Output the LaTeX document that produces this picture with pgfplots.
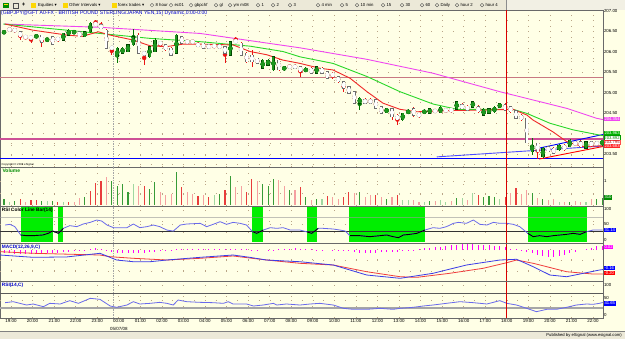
\documentclass[border=0pt]{standalone}
\usepackage{fontspec}
\setmainfont{Liberation Sans}
\newfontfamily\djv{DejaVu Sans}
\usepackage{pgfplots}
\usepackage{pgfplotstable}
\pgfplotsset{compat=1.18}
\definecolor{cream}{RGB}{255,255,230}
\definecolor{tbgray}{RGB}{236,233,216}
\definecolor{gridc}{RGB}{185,165,135}
\definecolor{sepc}{RGB}{105,105,105}
\definecolor{maR}{RGB}{240,40,40}
\definecolor{maG}{RGB}{40,215,40}
\definecolor{maM}{RGB}{240,70,240}
\definecolor{upfill}{RGB}{30,150,30}
\definecolor{upedge}{RGB}{0,70,0}
\definecolor{dnedge}{RGB}{110,110,110}
\definecolor{wickR}{RGB}{235,20,20}
\definecolor{wickG}{RGB}{0,120,0}
\definecolor{volR}{RGB}{232,60,60}
\definecolor{volLR}{RGB}{245,160,160}
\definecolor{volG}{RGB}{55,155,55}
\definecolor{volLG}{RGB}{160,215,160}
\definecolor{zoneG}{RGB}{0,238,0}
\definecolor{rsiblue}{RGB}{105,105,235}
\definecolor{macdblue}{RGB}{60,60,230}
\definecolor{macdred}{RGB}{240,60,60}
\definecolor{histm}{RGB}{255,0,255}
\definecolor{mauve}{RGB}{200,120,130}
\definecolor{hlmag}{RGB}{205,80,150}
\definecolor{titleblue}{RGB}{0,0,210}
\newcommand{\fs}[1]{\fontsize{#1}{#1}\selectfont}

\tikzset{rbox/.style={anchor=west, inner sep=0.7bp, font=\fs{4.2}, xshift=0.6bp}}
\pgfplotsset{
 panel/.style={
  scale only axis, width=603bp, anchor=north west,
  xmin=-0.75, xmax=111.15,
  axis line style={sepc, line width=1bp},
  axis background/.style={fill=cream},
  major tick length=0pt, minor tick length=0pt,
  xtick={1.3,5.3,...,109.3}, xticklabels={},
  xmajorgrids,
  major grid style={gridc, line width=0.75bp, dash pattern=on 0.75bp off 10.03bp},
  minor grid style={gridc, line width=0.75bp, dash pattern=on 0.75bp off 10.03bp},
  yticklabel pos=right,
  yticklabel style={font=\fs{4.4}, inner sep=0.8bp, text=black},
  clip mode=individual,
  scaled y ticks=false,
  /pgf/number format/assume math mode=true,
 },
 cndl/.style={only marks, mark=none, error bars/y dir=both, error bars/y explicit, error bars/error mark=none},
 dotrow/.style={gridc, line width=0.75bp, dash pattern=on 0.75bp off 10.03bp},
}

\pgfplotstableread{
k o h l c
0 206.44 206.52 206.42 206.50
6 206.34 206.42 206.33 206.40
8 206.26 206.33 206.24 206.32
11 206.28 206.46 206.27 206.44
12 206.40 206.54 206.39 206.52
13 206.44 206.52 206.43 206.50
15 206.36 206.50 206.35 206.48
16 206.48 206.73 206.46 206.69
21 205.87 206.10 205.71 206.08
22 205.96 206.10 205.94 206.08
23 206.00 206.18 205.98 206.16
24 206.16 206.56 206.14 206.36
27 205.87 206.14 205.85 206.12
28 206.00 206.32 205.98 206.28
32 205.96 206.42 205.94 206.40
42 205.91 206.26 205.89 206.24
48 205.59 205.81 205.57 205.79
49 205.67 205.81 205.65 205.79
50 205.55 205.89 205.53 205.87
52 205.55 205.65 205.53 205.63
56 205.51 205.61 205.49 205.59
58 205.47 205.65 205.45 205.63
66 204.74 204.88 204.57 204.86
71 204.51 204.63 204.49 204.61
74 204.33 204.51 204.31 204.49
75 204.49 204.59 204.47 204.57
78 204.49 204.59 204.47 204.57
79 204.49 204.63 204.47 204.61
81 204.51 204.66 204.49 204.64
84 204.59 204.80 204.57 204.78
87 204.64 204.80 204.62 204.78
89 204.45 204.61 204.43 204.59
90 204.49 204.63 204.47 204.61
91 204.53 204.66 204.51 204.64
92 204.64 204.74 204.62 204.72
98 203.56 203.88 203.48 203.72
100 203.43 203.66 203.41 203.64
103 203.60 203.74 203.58 203.72
105 203.68 203.86 203.66 203.84
108 203.64 203.82 203.62 203.80
111 203.72 203.85 203.70 203.83
}\upT

\pgfplotstableread{
k o h l c
1 206.56 206.58 206.49 206.51
2 206.56 206.58 206.46 206.48
3 206.48 206.49 206.28 206.36
4 206.36 206.37 206.32 206.35
5 206.36 206.37 206.22 206.32
7 206.40 206.41 206.12 206.22
9 206.36 206.37 206.16 206.18
10 206.35 206.36 206.24 206.26
14 206.48 206.50 206.35 206.36
17 206.68 206.77 206.65 206.66
18 206.65 206.73 206.55 206.56
19 206.52 206.56 206.06 206.08
20 206.10 206.12 205.91 206.08
25 206.40 206.44 205.94 205.96
26 206.00 206.02 205.67 205.91
29 206.21 206.24 206.10 206.19
30 206.16 206.18 206.02 206.04
31 206.08 206.10 205.89 205.91
33 206.36 206.38 206.18 206.20
34 206.28 206.30 206.18 206.20
35 206.25 206.28 206.20 206.23
36 206.20 206.24 206.10 206.12
37 206.20 206.22 206.06 206.08
38 206.16 206.18 206.06 206.08
39 206.14 206.16 206.10 206.13
40 206.16 206.18 206.06 206.08
41 206.12 206.14 205.71 205.96
43 206.26 206.36 206.22 206.24
44 206.20 206.24 205.89 205.91
45 205.96 205.98 205.73 205.75
46 205.91 206.04 205.63 205.75
47 205.83 205.85 205.69 205.71
51 205.79 205.81 205.53 205.55
53 205.64 205.67 205.60 205.62
54 205.67 205.69 205.57 205.59
55 205.63 205.65 205.39 205.51
57 205.59 205.61 205.45 205.47
59 205.59 205.61 205.45 205.47
60 205.51 205.53 205.33 205.35
61 205.47 205.49 205.33 205.39
62 205.39 205.41 205.24 205.26
63 205.26 205.28 205.02 205.10
64 205.14 205.16 204.96 204.98
65 205.02 205.04 204.72 204.74
67 204.83 204.86 204.72 204.74
68 204.83 204.86 204.72 204.74
69 204.82 204.84 204.59 204.61
70 204.65 204.67 204.47 204.49
72 204.61 204.63 204.33 204.41
73 204.45 204.47 204.21 204.33
76 204.61 204.65 204.41 204.45
77 204.49 204.51 204.39 204.41
80 204.57 204.59 204.51 204.53
82 204.57 204.59 204.53 204.56
83 204.61 204.63 204.51 204.53
85 204.70 204.74 204.59 204.61
86 204.67 204.69 204.55 204.57
88 204.65 204.70 204.51 204.53
93 204.70 204.74 204.55 204.57
94 204.65 204.67 204.51 204.53
95 204.56 204.58 204.35 204.37
96 204.45 204.47 204.31 204.33
97 204.37 204.39 203.76 203.78
99 203.76 203.78 203.39 203.56
101 203.68 203.70 203.54 203.56
102 203.64 203.66 203.50 203.52
104 203.72 203.74 203.58 203.60
106 203.80 203.82 203.70 203.72
107 203.80 203.84 203.64 203.68
109 203.80 203.82 203.68 203.70
110 203.80 203.82 203.70 203.72
}\dnT

\pgfplotstableread{
k v
0.19 47.5
1.1 49.7
2.0 42.1
3.1 14.8
4.2 12.6
5.4 12.6
7.2 14.8
8.2 20.2
9.0 27.9
10.1 20.2
11.0 36.6
12.2 45.4
13.5 42.1
14.7 50.8
16.0 56.2
17.2 63.9
18.1 60.7
19.1 47.5
20.3 38.8
22.8 38.8
24.0 50.8
25.2 38.8
26.5 42.1
27.7 47.5
28.9 42.1
30.2 31.1
31.4 27.5
32.7 47.5
33.9 50.8
36.4 53.0
37.6 42.1
38.8 49.7
40.1 58.4
41.3 49.7
42.5 56.2
43.8 53.0
45.0 47.5
46.1 25.7
46.9 20.2
48.1 31.1
49.4 38.8
50.6 36.6
51.8 38.8
53.1 31.1
54.9 31.1
56.2 25.0
57.1 20.2
58.3 36.6
59.2 36.6
61.1 34.4
62.3 31.1
63.3 27.9
64.2 12.6
66.0 12.6
67.9 9.3
69.8 12.6
71.0 14.8
72.2 9.3
73.2 6.0
74.1 14.8
75.3 16.9
76.6 20.2
78.1 31.1
79.6 38.8
80.9 36.6
82.1 42.1
83.4 53.0
84.3 56.2
85.8 53.0
87.1 63.9
88.3 49.7
89.6 47.5
90.8 56.2
92.0 53.0
93.3 53.0
94.5 49.7
95.7 42.1
97.2 20.2
98.2 9.3
99.4 12.6
100.7 9.3
101.9 12.6
103.2 14.8
104.4 16.9
105.6 20.2
106.9 16.9
108.1 25.7
109.3 31.1
110.5 31.1
111.1 31.1
}\rsiT

\begin{document}
\begin{tikzpicture}
\useasboundingbox (0bp,0bp) rectangle (625bp,-339bp);
\fill[cream] (0bp,0bp) rectangle (625bp,-339bp);
\fill[tbgray] (0bp,0bp) rectangle (625bp,-10bp);
\fill[tbgray!70!white] (506bp,0bp) rectangle (625bp,-10bp);
\draw[black!45, line width=0.4bp] (506bp,0bp) -- (506bp,-10bp);
\fill[tbgray] (0bp,-331bp) rectangle (625bp,-339bp);
\draw[black!50, line width=0.5bp] (0bp,-331bp) -- (625bp,-331bp);

% ===== PRICE PANEL =====
\begin{axis}[panel, at={(0bp,-10bp)}, height=157bp,
  ymin=203.183, ymax=207.012,
  ytick={203.25,203.5,203.75,204,204.25,204.5,204.75,205,205.25,205.5,205.75,206,206.25,206.5,206.75,207},
  yticklabels={,203.50,,,,204.50,,205.00,,205.50,,206.00,,206.50,,207.00},
  ymajorgrids]
 \addplot[sepc!60, line width=0.5bp, dash pattern=on 1.5bp off 1bp] coordinates {(20.2,203.183)(20.2,207.012)};
 \addplot[mauve, line width=0.8bp] coordinates {(-0.75,205.38)(111.15,205.38)};
 \addplot[hlmag, line width=1.6bp] coordinates {(-0.75,203.87)(111.15,203.87)};
 \addplot[blue, line width=0.9bp] coordinates {(-0.75,203.40)(111.15,203.40)};
 \addplot[blue!70, line width=0.9bp] coordinates {(80.3,203.43)(111.15,203.695)};
 \addplot[blue, line width=0.9bp] coordinates {(99.4,203.646)(111.15,203.976)};
 \addplot[red, line width=0.9bp] coordinates {(99.3,203.378)(111.15,203.683)};
 % moving averages
 \addplot[maM, line width=0.9bp] coordinates {(0,206.67)(17.8,206.59)(36.4,206.44)(54.9,206.09)(67.3,205.81)(79.6,205.47)(92.0,205.02)(104.5,204.61)(110.0,204.37)(111.15,204.34)};
 \addplot[maG, line width=0.9bp] coordinates {(-0.13,206.67)(11.63,206.52)(17.81,206.44)(27.09,206.32)(36.36,206.24)(45.64,206.13)(51.76,206.00)(54.92,205.87)(61.04,205.71)(67.35,205.39)(73.47,205.02)(79.59,204.72)(84.04,204.59)(89.61,204.59)(94.43,204.59)(97.03,204.49)(101.3,204.25)(105.57,204.09)(110.58,203.96)(111.15,203.95)};
 \addplot[maR, line width=0.9bp] coordinates {(0.19,206.67)(5.38,206.52)(11.69,206.40)(14.5,206.37)(17.5,206.48)(19.7,206.40)(23.93,206.28)(27.09,206.14)(30.24,206.12)(33.21,206.18)(36.36,206.18)(42.49,206.16)(45.64,206.00)(48.79,205.92)(51.76,205.79)(54.92,205.71)(58.63,205.59)(61.04,205.55)(64.19,205.35)(67.35,205.02)(70.32,204.74)(73.47,204.59)(76.62,204.53)(82.75,204.56)(88.87,204.57)(94.43,204.59)(97.03,204.45)(98.14,204.33)(101.86,204.04)(104.45,203.80)(107.42,203.68)(110.58,203.70)(111.15,203.70)};
 % wicks
 \addplot[cndl, color=wickG, error bars/error bar style={line width=0.7bp, draw=wickG}]
   table[x=k, y expr=(\thisrow{h}+\thisrow{l})/2, y error expr=(\thisrow{h}-\thisrow{l})/2] {\upT};
 \addplot[cndl, color=wickR, error bars/error bar style={line width=0.7bp, draw=wickR}]
   table[x=k, y expr=(\thisrow{h}+\thisrow{l})/2, y error expr=(\thisrow{h}-\thisrow{l})/2] {\dnT};
 % bodies
 \addplot[cndl, color=upedge, error bars/error bar style={line width=3.2bp, draw=upedge}]
   table[x=k, y expr=(\thisrow{o}+\thisrow{c})/2, y error expr={max(abs(\thisrow{c}-\thisrow{o})/2,0.008)+0.012}] {\upT};
 \addplot[cndl, color=upfill, error bars/error bar style={line width=2bp, draw=upfill}]
   table[x=k, y expr=(\thisrow{o}+\thisrow{c})/2, y error expr={max(abs(\thisrow{c}-\thisrow{o})/2,0.008)}] {\upT};
 \addplot[cndl, color=dnedge, error bars/error bar style={line width=3.2bp, draw=dnedge}]
   table[x=k, y expr=(\thisrow{o}+\thisrow{c})/2, y error expr={max(abs(\thisrow{c}-\thisrow{o})/2,0.008)+0.012}] {\dnT};
 \addplot[cndl, color=white, error bars/error bar style={line width=2bp, draw=white}]
   table[x=k, y expr=(\thisrow{o}+\thisrow{c})/2, y error expr={max(abs(\thisrow{c}-\thisrow{o})/2,0.008)}] {\dnT};
 \addplot[red!85!black, line width=0.8bp] coordinates {(93.3,203.183)(93.3,207.012)};
 \node[anchor=south west, inner sep=0.3bp, font=\fs{2.8}] at (rel axis cs:0.002,0.004) {Copyright © 2008 eSignal.};
 \node[rbox, fill=maM, text=white] at (axis cs:111.15,204.354) {204.354};
 \node[rbox, fill=green!70!black, text=white] at (axis cs:111.15,204.00) {203.963};
 \node[rbox, fill=white, draw=green!60!black, line width=0.3bp, text=green!50!black] at (axis cs:111.15,203.895) {203.892};
 \node[rbox, fill=white, draw=red!70, line width=0.3bp, text=red!70!black] at (axis cs:111.15,203.795) {203.795};
 \node[rbox, fill=red!85, text=white] at (axis cs:111.15,203.70) {203.683};
\end{axis}

% ===== VOLUME PANEL =====
\begin{axis}[panel, at={(0bp,-167bp)}, height=39bp, ymin=-42, ymax=1583,
  ytick={1000}, yticklabels={{1,000}}]
 \addplot[dotrow] coordinates {(-0.75,500)(111.15,500)};
 \addplot[dotrow] coordinates {(-0.75,1000)(111.15,1000)};
 \addplot[sepc!60, line width=0.5bp, dash pattern=on 1.5bp off 1bp] coordinates {(20.2,-42)(20.2,1583)};
 \addplot[ycomb, mark=none, volG, line width=1.1bp] coordinates {(0,267)(2,160)(7,160)(9,173)(15,333)(20,1000)(21,800)(22,867)(23,533)(27,667)(28,960)(32,1360)(40,467)(42,1227)(48,867)(49,773)(50,1093)(53,640)(56,333)(58,240)(66,533)(71,267)(79,160)(84,307)(89,333)(90,373)(91,333)(98,507)(100,267)(105,133)(110,267)(111,310)};
 \addplot[ycomb, mark=none, volLG, line width=1.1bp] coordinates {(1,133)(8,160)(11,133)(24,867)(39,400)(59,267)(74,200)(75,200)(78,133)(81,200)(82,133)(85,293)(87,507)(92,240)(103,133)(108,133)};
 \addplot[ycomb, mark=none, volR, line width=1.1bp] coordinates {(3,240)(5,200)(6,200)(10,107)(12,133)(16,600)(17,900)(18,1000)(26,800)(33,733)(36,373)(38,333)(41,640)(45,533)(46,1093)(55,733)(60,373)(63,333)(64,533)(69,427)(73,400)(88,400)(93,333)(95,693)};
 \addplot[ycomb, mark=none, volLR, line width=1.1bp] coordinates {(4,107)(13,133)(14,307)(19,1150)(25,800)(29,533)(30,427)(31,467)(34,533)(35,467)(37,427)(43,733)(44,773)(47,1000)(51,1040)(52,773)(54,640)(57,200)(61,333)(62,267)(65,507)(67,333)(68,427)(70,333)(72,333)(76,200)(77,107)(80,160)(83,160)(86,200)(94,507)(96,467)(97,627)(99,293)(101,227)(102,267)(104,133)(106,160)(107,133)(109,267)};
 \addplot[red!85!black, line width=0.8bp] coordinates {(93.3,-42)(93.3,1583)};
 \node[anchor=north west, inner sep=0.5bp, font=\bfseries\fs{5}, text=green!55!black] at (rel axis cs:0.003,0.97) {Volume};
 \node[rbox, fill=green!55!black, text=white] at (axis cs:111.15,310) {310};
\end{axis}

% ===== RSI COLOR LINE BAR PANEL =====
\begin{axis}[panel, at={(0bp,-206bp)}, height=37.5bp, ymin=-13.1, ymax=109.8,
  ytick={0,50,100}, yticklabels={0,50,100}]
 \addplot[dotrow] coordinates {(-0.75,50)(111.15,50)};
 \addplot[zoneG, fill=zoneG, draw=none] coordinates {(3.1,-7)(3.1,107)(9.0,107)(9.0,-7)} -- cycle;
 \addplot[zoneG, fill=zoneG, draw=none] coordinates {(10.0,-7)(10.0,107)(11.0,107)(11.0,-7)} -- cycle;
 \addplot[zoneG, fill=zoneG, draw=none] coordinates {(46.1,-7)(46.1,107)(48.1,107)(48.1,-7)} -- cycle;
 \addplot[zoneG, fill=zoneG, draw=none] coordinates {(56.2,-7)(56.2,107)(58.0,107)(58.0,-7)} -- cycle;
 \addplot[zoneG, fill=zoneG, draw=none] coordinates {(64.1,-7)(64.1,107)(78.1,107)(78.1,-7)} -- cycle;
 \addplot[zoneG, fill=zoneG, draw=none] coordinates {(97.2,-7)(97.2,107)(108.1,107)(108.1,-7)} -- cycle;
 \addplot[sepc!60, line width=0.5bp, dash pattern=on 1.5bp off 1bp] coordinates {(20.2,-13.1)(20.2,109.8)};
 \addplot[black!40, opacity=0.6, line width=1.5bp] coordinates {(-0.75,71.5)(111.15,71.5)};
 \addplot[black!80, line width=0.8bp] coordinates {(-0.75,25.7)(111.15,25.7)};
 \addplot[rsiblue, line width=0.8bp] table[x=k, y=v] {\rsiT};
 \addplot[black, line width=0.9bp, restrict x to domain=3.1:9.0] table[x=k, y=v] {\rsiT};
 \addplot[black, line width=0.9bp, restrict x to domain=9.0:11.0] table[x=k, y=v] {\rsiT};
 \addplot[black, line width=0.9bp, restrict x to domain=46.1:48.1] table[x=k, y=v] {\rsiT};
 \addplot[black, line width=0.9bp, restrict x to domain=56.2:58.3] table[x=k, y=v] {\rsiT};
 \addplot[black, line width=0.9bp, restrict x to domain=64.2:78.1] table[x=k, y=v] {\rsiT};
 \addplot[black, line width=0.9bp, restrict x to domain=97.2:108.1] table[x=k, y=v] {\rsiT};
 \addplot[red!85!black, line width=0.8bp] coordinates {(93.3,-13.1)(93.3,109.8)};
 \node[anchor=north west, inner sep=0.5bp, font=\bfseries\fs{4.8}, text=black] at (rel axis cs:0.002,0.97) {RSI Color Line Bar(14)};
 \node[rbox, fill=blue, text=white] at (axis cs:111.15,31.1) {31.14};
\end{axis}

% ===== MACD PANEL =====
\begin{axis}[panel, at={(0bp,-243.5bp)}, height=38.2bp, ymin=-0.2598, ymax=0.0533, ytick=\empty]
 \addplot[dotrow] coordinates {(-0.75,-0.082)(111.15,-0.082)};
 \addplot[dotrow] coordinates {(-0.75,-0.178)(111.15,-0.178)};
 \addplot[sepc!60, line width=0.5bp, dash pattern=on 1.5bp off 1bp] coordinates {(20.2,-0.2598)(20.2,0.0533)};
 \addplot[ycomb, mark=none, histm, line width=0.9bp] coordinates {
 (0,-0.027)(1,-0.028)(2,-0.030)(3,-0.032)(4,-0.033)(5,-0.033)(6,-0.031)(7,-0.028)(8,-0.026)(9,-0.024)
 (10,-0.022)(11,-0.020)(12,-0.015)(13,-0.010)(14,-0.004)(15,0.004)(16,0.010)(17,0.014)(18,0.010)(19,-0.008)
 (20,-0.016)(21,-0.021)(22,-0.024)(23,-0.027)(24,-0.028)(25,-0.026)(26,-0.022)(27,-0.020)(28,-0.014)(29,-0.008)
 (30,-0.002)(31,0.002)(32,0.005)(33,0.007)(34,0.008)(35,0.008)(36,0.008)(37,0.008)(38,0.008)(39,0.008)
 (40,0.008)(41,0.008)(42,0.008)(43,0.007)(44,0.007)(45,0.006)(46,0.004)(47,0.002)(48,0.000)(49,0.002)
 (50,0.004)(51,0.006)(52,0.009)(53,0.011)(54,0.013)(55,0.012)(56,0.009)(57,0.006)(58,0.003)(59,0.001)
 (60,0.000)(61,-0.003)(62,-0.006)(63,-0.009)(64,-0.012)(65,-0.017)(66,-0.022)(67,-0.027)(68,-0.026)(69,-0.023)
 (70,-0.020)(71,-0.017)(72,-0.015)(73,-0.013)(74,-0.008)(75,-0.002)(76,0.004)(77,0.010)(78,0.015)(79,0.018)
 (80,0.022)(81,0.027)(82,0.032)(83,0.037)(84,0.042)(85,0.046)(86,0.048)(87,0.046)(88,0.043)(89,0.040)
 (90,0.037)(91,0.035)(92,0.033)(93,0.022)(94,0.012)(95,0.006)(96,-0.010)(97,-0.020)(98,-0.028)(99,-0.040)
 (100,-0.052)(101,-0.061)(102,-0.055)(103,-0.048)(104,-0.041)(105,-0.028)(106,-0.014)(107,0.000)(108,0.010)(109,0.020)
 (110,0.030)(111,0.033)};
 \addplot[macdred, line width=0.8bp] coordinates {(-0.74,-0.014)(5.4,-0.027)(17.8,-0.041)(19.7,-0.055)(24.0,-0.068)(30.2,-0.082)(36.4,-0.068)(42.5,-0.049)(48.7,-0.082)(54.9,-0.109)(61.1,-0.123)(67.3,-0.178)(73.5,-0.219)(76.6,-0.224)(82.7,-0.191)(88.9,-0.150)(93.3,-0.104)(95.1,-0.082)(98.2,-0.109)(104.4,-0.178)(109.3,-0.197)(111.15,-0.197)};
 \addplot[macdblue, line width=0.8bp] coordinates {(-0.74,-0.041)(5.4,-0.060)(11.6,-0.057)(17.8,-0.027)(20.9,-0.082)(24.0,-0.096)(27.1,-0.096)(30.2,-0.082)(36.4,-0.060)(42.5,-0.041)(45.6,-0.060)(48.7,-0.082)(54.9,-0.096)(61.1,-0.123)(64.2,-0.164)(67.3,-0.205)(73.5,-0.232)(79.6,-0.191)(85.8,-0.123)(92.0,-0.082)(95.1,-0.076)(98.2,-0.137)(101.3,-0.205)(104.4,-0.219)(107.5,-0.191)(110.5,-0.164)(111.15,-0.160)};
 \addplot[red!85!black, line width=0.8bp] coordinates {(93.3,-0.2598)(93.3,0.0533)};
 \node[anchor=north west, inner sep=0.5bp, font=\bfseries\fs{4.8}, text=titleblue] at (rel axis cs:0.002,0.97) {MACD(12,26,9,C)};
 \node[rbox, fill=histm, text=white] at (axis cs:111.15,0.027) {0.02};
 \node[rbox, fill=blue, text=white] at (axis cs:111.15,-0.148) {-0.16};
 \node[rbox, fill=red, text=white] at (axis cs:111.15,-0.188) {-0.20};
\end{axis}

% ===== RSI(14,C) PANEL =====
\begin{axis}[panel, at={(0bp,-281.7bp)}, height=36.3bp, ymin=-10, ymax=111,
  ytick={0,100}, yticklabels={0,100},
  extra y ticks={50}, extra y tick labels={50}, extra y tick style={yticklabel style={yshift=2bp}},
  xticklabels={19:00,20:00,21:00,22:00,23:00,00:00,01:00,02:00,03:00,04:00,05:00,06:00,07:00,08:00,09:00,10:00,11:00,12:00,13:00,14:00,15:00,16:00,17:00,18:00,19:00,20:00,21:00,22:00},
  xticklabel style={font=\fs{4.5}, inner sep=1.2bp}]
 \addplot[dotrow] coordinates {(-0.75,50)(111.15,50)};
 \addplot[sepc!60, line width=0.5bp, dash pattern=on 1.5bp off 1bp] coordinates {(20.2,-10)(20.2,111)};
 \addplot[black!65, line width=0.8bp] coordinates {(-0.75,72.3)(111.15,72.3)};
 \addplot[black!35, line width=1.2bp] coordinates {(-0.75,23.3)(111.15,23.3)};
 \addplot[rsiblue, line width=0.8bp] coordinates {(0.19,41.1)(1.7,44.4)(4.2,33.3)(5.4,36.7)(7.3,27.8)(8.5,38.9)(10.4,36.7)(12.2,47.8)(13.8,38.9)(16.0,55.6)(17.8,52.2)(19.7,30.0)(20.9,25.6)(22.8,33.3)(24.0,44.4)(25.2,36.7)(27.1,38.9)(28.9,42.2)(30.2,38.9)(31.4,33.3)(32.3,50.0)(33.9,44.4)(36.4,42.2)(38.8,41.1)(40.7,38.9)(41.6,44.4)(42.5,36.7)(45.0,36.7)(46.3,30.0)(48.1,33.3)(50.0,38.9)(50.6,33.3)(52.4,36.7)(54.9,33.3)(56.8,36.7)(58.6,38.9)(61.1,33.3)(63.0,22.2)(64.8,18.9)(67.3,18.9)(69.8,22.2)(72.2,18.9)(73.5,22.2)(75.9,25.6)(77.8,30.0)(79.6,33.3)(82.1,38.9)(84.6,44.4)(87.1,41.1)(89.6,36.7)(92.0,47.8)(93.3,38.9)(95.1,33.3)(97.0,22.2)(98.8,11.1)(100.7,18.9)(102.5,18.9)(104.4,25.6)(106.2,33.3)(108.1,36.7)(109.3,35.6)(110.5,38.9)(111.1,41.6)};
 \addplot[red!85!black, line width=0.8bp] coordinates {(93.3,-10)(93.3,111)};
 \node[anchor=north west, inner sep=0.5bp, font=\bfseries\fs{4.8}, text=titleblue] at (rel axis cs:0.002,0.97) {RSI(14,C)};
 \node[rbox, fill=blue, text=white, yshift=-1bp] at (axis cs:111.15,41.65) {41.65};
 \node[anchor=north, inner sep=0bp, font=\fs{4.5}] at (axis cs:21.3,-10) [yshift=-8.6bp] {05/07/08};
\end{axis}

% ===== title, toolbar, footer =====
\node[anchor=west, inner sep=0bp, font=\fs{5.1}, text=titleblue] at (1bp,-13.6bp) {(GBPJPY@GFT A0-FX - BRITISH POUND STERLING/JAPAN YEN,15) Dynamic,0:00-0:00};
\fill[green!55!black] (3bp,-2.5bp) rectangle (8.5bp,-8bp);
\fill[yellow!80!orange] (4bp,-3.5bp) rectangle (7.5bp,-5bp);
\draw[black!70, line width=0.4bp] (13bp,-2.8bp) rectangle (18bp,-7.8bp);
\node[font=\bfseries\fs{6}, inner sep=0] at (23.5bp,-5.2bp) {+};
\foreach \x in {31,63,112} {\fill[yellow!75!orange] (\x bp,-3.2bp) rectangle (\x bp+5bp,-7.6bp);}
\node[anchor=west, inner sep=0, font=\fs{4.3}] at (38bp,-5.2bp) {Equities {\djv ▾}};
\node[anchor=west, inner sep=0, font=\fs{4.3}] at (69bp,-5.2bp) {Other Intervals {\djv ▾}};
\node[anchor=west, inner sep=0, font=\fs{4.3}] at (118bp,-5.2bp) {forex trades {\djv ▾}};
\foreach \x/\t in {152/8 hour,171/ec01,191/gbpchf,216/gl,230/ym m08,258/1,273/2,290/3,318/4 min,342/5,357/10 min,383/15,402/30,422/60,437/Daily,457/hour 2,482/hour 4} {
  \draw[black!70, line width=0.35bp] (\x bp,-5.2bp) circle (1.8bp);
  \node[anchor=west, inner sep=0, font=\fs{4.3}] at (\x bp+3.4bp,-5.2bp) {\t};
}
\node[anchor=east, inner sep=0, font=\fs{4.2}] at (622bp,-335.3bp) {Published by eSignal (www.esignal.com)};
\end{tikzpicture}
\end{document}
